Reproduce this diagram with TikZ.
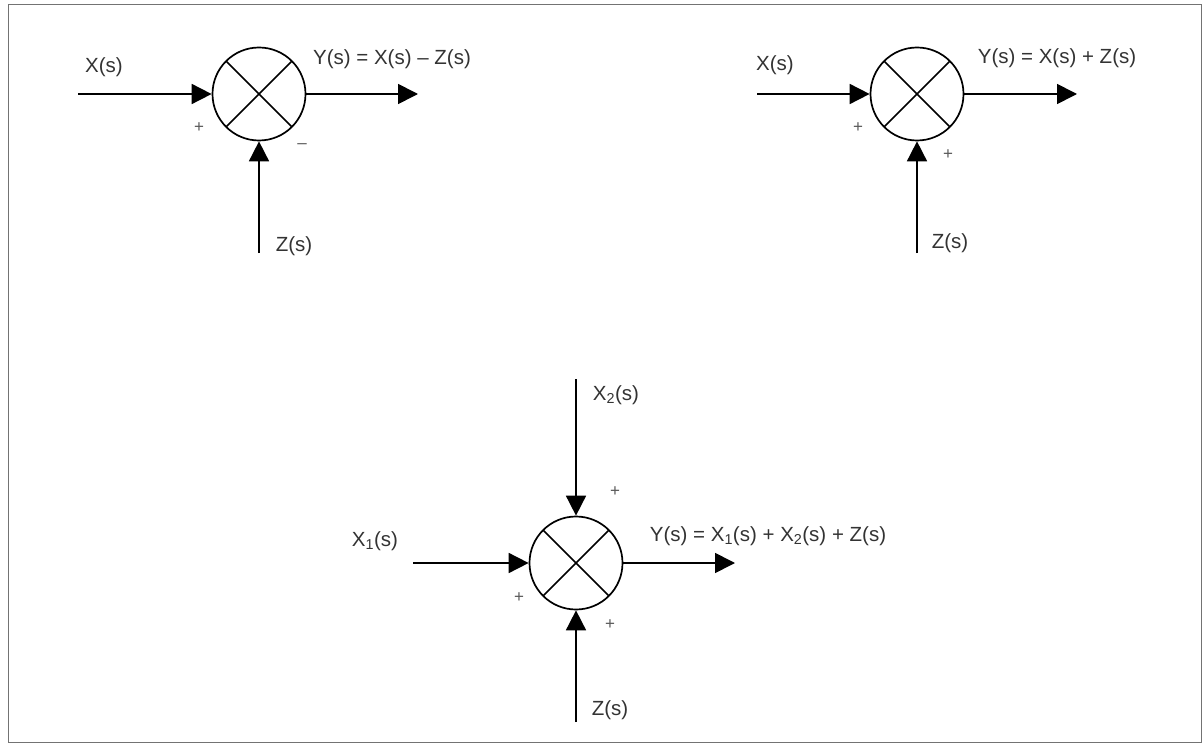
\documentclass[tikz,border=0pt]{standalone}
\usepackage{fontspec}
\setmainfont{Liberation Sans}
\usetikzlibrary{arrows.meta}

\begin{document}
\begin{tikzpicture}[x=1pt,y=-1pt,line width=1.7pt,>={Triangle[length=20pt,width=20pt]},font=\fontsize{20.5}{24}\selectfont]
  \tikzstyle{sum}=[draw,circle,minimum size=93pt,inner sep=0pt,
    path picture={\draw (path picture bounding box.north west) -- (path picture bounding box.south east)
      (path picture bounding box.north east) -- (path picture bounding box.south west);}]
  \tikzstyle{lbl}=[inner sep=0pt,text=black!80]
  \tikzstyle{sgn}=[inner sep=0pt,font=\fontsize{17}{18}\selectfont,text=black!65]
  \useasboundingbox (0,0) rectangle (1202,746);
  \draw[black!55,line width=1pt] (8,5) rectangle (1201,742);

  % Y = X - Z
  \node[sum] (s1) at (259,94) {};
  \coordinate (x1) at (78,94);
  \coordinate (y1) at (418,94);
  \coordinate (z1) at (259,253);
  \draw[->] (x1) -- (s1);
  \draw[->] (s1) -- (y1);
  \draw[->] (z1) -- (s1);
  \node[lbl] (lx1) at (104,67) {X(s)};
  \node[lbl] (ly1) at (392,59) {Y(s) = X(s) – Z(s)};
  \node[lbl] (lz1) at (294,246) {Z(s)};
  \node[sgn] (p1) at (199,128) {+};
  \node[sgn] (m1) at (302,146) {–};

  % Y = X + Z
  \node[sum] (s2) at (917,94) {};
  \coordinate (x2) at (757,94);
  \coordinate (y2) at (1077,94);
  \coordinate (z2) at (917,253);
  \draw[->] (x2) -- (s2);
  \draw[->] (s2) -- (y2);
  \draw[->] (z2) -- (s2);
  \node[lbl] (lx2) at (775,65) {X(s)};
  \node[lbl] (ly2) at (1057,58) {Y(s) = X(s) + Z(s)};
  \node[lbl] (lz2) at (950,243) {Z(s)};
  \node[sgn] (p2a) at (858,128) {+};
  \node[sgn] (p2b) at (948,155) {+};

  % Y = X1 + X2 + Z
  \node[sum] (s3) at (576,563) {};
  \coordinate (x31) at (413,563);
  \coordinate (x32) at (576,379);
  \coordinate (y3) at (735,563);
  \coordinate (z3) at (576,722);
  \draw[->] (x31) -- (s3);
  \draw[->] (x32) -- (s3);
  \draw[->] (s3) -- (y3);
  \draw[->] (z3) -- (s3);
  \node[lbl] (lx31) at (375,541) {X\textsubscript{1}(s)};
  \node[lbl] (lx32) at (616,395) {X\textsubscript{2}(s)};
  \node[lbl] (ly3) at (768,536) {Y(s) = X\textsubscript{1}(s) + X\textsubscript{2}(s) + Z(s)};
  \node[lbl] (lz3) at (610,710) {Z(s)};
  \node[sgn] (p3a) at (615,492) {+};
  \node[sgn] (p3b) at (519,598) {+};
  \node[sgn] (p3c) at (610,625) {+};
\end{tikzpicture}
\end{document}
